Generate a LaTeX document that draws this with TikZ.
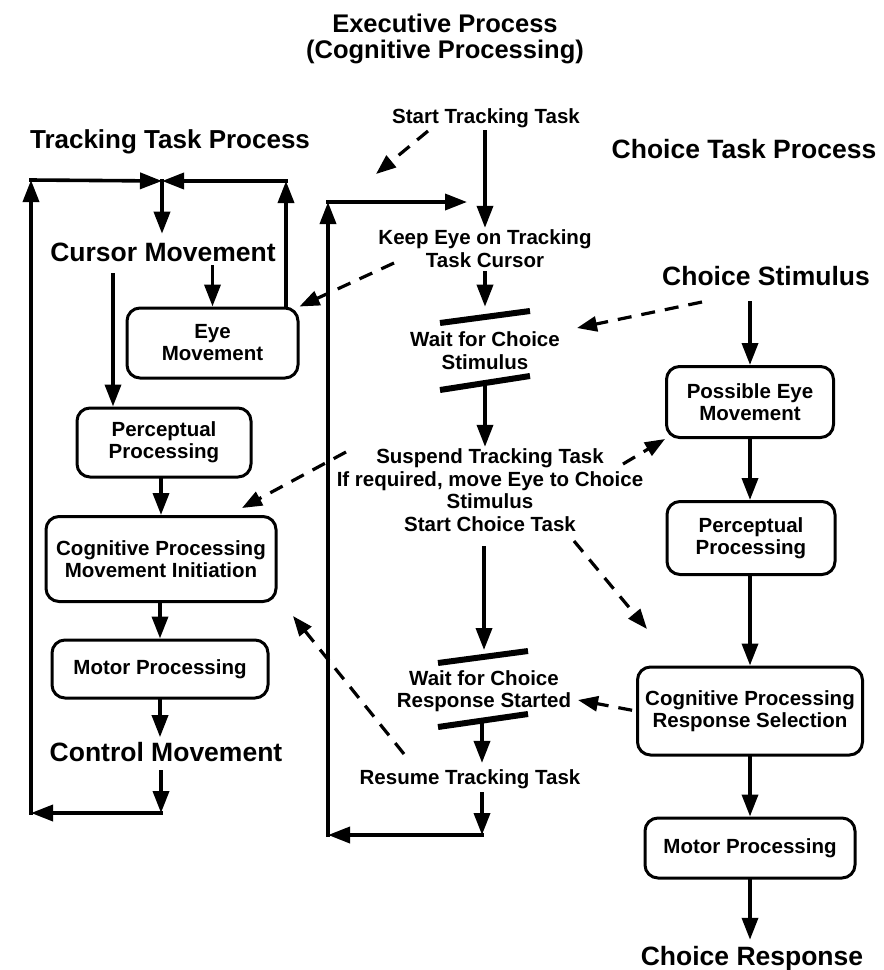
\documentclass[tikz,border=0pt]{standalone}
\usepackage{fontspec}
\setmainfont{Liberation Sans}
\usetikzlibrary{arrows.meta}
\begin{document}
\begin{tikzpicture}[x=1pt,y=-1pt,
  title/.style={font=\fontsize{25.5}{26}\selectfont\bfseries, align=center, inner sep=2pt},
  big/.style={font=\fontsize{26.5}{29}\selectfont\bfseries, align=center, inner sep=2pt},
  small/.style={font=\fontsize{20.5}{22.5}\selectfont\bfseries, align=center, inner sep=2pt},
  box/.style={draw, line width=3pt, rounded corners=13pt, font=\fontsize{20.5}{22}\selectfont\bfseries, align=center, inner sep=0pt},
  arr/.style={line width=3.6pt, line cap=rect, -{Triangle[length=22pt,width=16pt]}},
  darr/.style={line width=3.2pt, dash pattern=on 14pt off 10pt, -{Triangle[length=20pt,width=15pt]}},
  bar/.style={line width=6pt},
]
\fill[white] (0,0) rectangle (884,970);
\useasboundingbox (0,0) rectangle (884,970);

% titles
\node[title] (exec) at (445,38.5) {Executive Process\\(Cognitive Processing)};
\node[big, font=\fontsize{26}{29}\selectfont\bfseries] (ttp) at (170,142) {Tracking Task Process};
\node[big] (ctp) at (744,149.5) {Choice Task Process};

% tracking task process
\node[big] (cursor) at (163,252.3) {Cursor Movement};
\node[box, minimum width=171pt, minimum height=70pt] (eye) at (212.5,343) {Eye\\Movement};
\node[box, minimum width=174pt, minimum height=69pt] (lperc) at (164,442.5) {Perceptual\\Processing};
\node[box, minimum width=230pt, minimum height=85pt] (lcog) at (161,559) {Cognitive Processing\\Movement Initiation};
\node[box, minimum width=216pt, minimum height=58pt] (lmotor) at (160,669) {Motor Processing};
\node[big] (control) at (166,752.5) {Control Movement};

% executive process
\node[small] (stt) at (486,118.7) {Start Tracking Task};
\node[small] (keep) at (485,248.8) {Keep Eye on Tracking\\Task Cursor};
\node[small] (waitS) at (485,350.5) {Wait for Choice\\Stimulus};
\node[small] (susp) at (490,490.3) {Suspend Tracking Task\\If required, move Eye to Choice\\Stimulus\\Start Choice Task};
\node[small] (waitR) at (484,691) {Wait for Choice\\Response Started};
\node[small] (resume) at (470,779.7) {Resume Tracking Task};

% choice task process
\node[big] (cstim) at (766,276.5) {Choice Stimulus};
\node[box, minimum width=167pt, minimum height=71pt] (peye) at (750,402) {Possible Eye\\Movement};
\node[box, minimum width=168pt, minimum height=73pt] (rperc) at (751,538) {Perceptual\\Processing};
\node[box, minimum width=225pt, minimum height=88pt] (rcog) at (750,711) {Cognitive Processing\\Response Selection};
\node[box, minimum width=210pt, minimum height=60pt] (rmotor) at (750,848) {Motor Processing};
\node[big] (cresp) at (752,959) {Choice Response};

% loop corners
\coordinate (lb) at (161,813);
\coordinate (lbl) at (31,813);
\coordinate (ltl) at (31,180);
\coordinate (ltm) at (162,181);
\coordinate (ltr) at (286,181);
\coordinate (lpx) at (113,300);
\coordinate (mlb) at (482,835);
\coordinate (mll) at (328,835);
\coordinate (mtl) at (328,202);
\coordinate (mtr) at (467,202);

% left loop
\draw[arr, shorten <=7pt] (control.south -| lb) -- (lb);
\draw[arr] (lb) -- (lbl);
\draw[arr] (lbl) -- (ltl);
\draw[arr] (ltl) -- (ltm);
\draw[arr] (eye.north -| ltr) -- (ltr);
\draw[arr] (ltr) -- (ltm);
\draw[arr, shorten >=7pt] (ltm) -- (cursor.north -| ltm);
\draw[arr, shorten <=3pt] (cursor.south -| eye.north) -- (eye.north);
\draw[arr, shorten <=11pt] (cursor.south -| lpx) -- (lperc.north -| lpx);
\draw[arr] (lcog.north |- lperc.south) -- (lcog.north);
\draw[arr] (lmotor.north |- lcog.south) -- (lmotor.north);
\draw[arr, shorten >=3.4pt] (lmotor.south) -- (control.north -| lmotor.south);

% middle
\draw[arr, shorten <=1.7pt] (stt.south -| keep.north) -- (keep.north);
\draw[arr, shorten <=3pt, shorten >=22.8pt] (keep.south) -- (waitS.north);
\draw[arr, shorten <=15.8pt] (waitS.south) -- (susp.north -| waitS.south);
\draw[arr, shorten <=14.5pt, shorten >=18pt] (susp.south -| waitR.north) -- (waitR.north);
\draw[arr, shorten <=6.2pt, shorten >=5pt] (waitR.south -| mlb) -- (resume.north -| mlb);
\draw[arr, shorten <=2pt] (resume.south -| mlb) -- (mlb);
\draw[arr] (mlb) -- (mll);
\draw[arr] (mll) -- (mtl);
\draw[arr] (mtl) -- (mtr);

% bars
\draw[bar] (440,323) -- (530,311);
\draw[bar] (440,390) -- (530,376);
\draw[bar] (438,663) -- (528,651);
\draw[bar] (438,727) -- (528,714);

% right column
\draw[arr, shorten <=14pt] (cstim.south -| peye.north) -- (peye.north);
\draw[arr] (peye.south) -- (rperc.north -| peye.south);
\draw[arr] (rperc.south -| rcog.north) -- (rcog.north);
\draw[arr] (rcog.south) -- (rmotor.north);
\draw[arr, shorten >=4.7pt] (rmotor.south) -- (cresp.north -| rmotor.south);

% dashed connectors
\coordinate (d1s) at (428,131); \coordinate (d1e) at (376,174);
\coordinate (d2s) at (394,263);
\coordinate (d3s) at (702,302); \coordinate (d3e) at (577,328);
\coordinate (d4s) at (623,464);
\coordinate (d5s) at (346,452); \coordinate (d5e) at (242,508);
\coordinate (d6s) at (574,541); \coordinate (d6e) at (647,629);
\coordinate (d7e) at (578,700);
\coordinate (d8s) at (404,754); \coordinate (d8e) at (293,616);
\draw[darr] (d1s) -- (d1e);
\draw[darr] (d2s) -- (eye.north east);
\draw[darr] (d3s) -- (d3e);
\draw[darr] (d4s) -- (peye.south west);
\draw[darr] (d5s) -- (d5e);
\draw[darr] (d6s) -- (d6e);
\draw[darr, shorten <=4pt] (rcog.west) -- (d7e);
\draw[darr] (d8s) -- (d8e);
\end{tikzpicture}
\end{document}
